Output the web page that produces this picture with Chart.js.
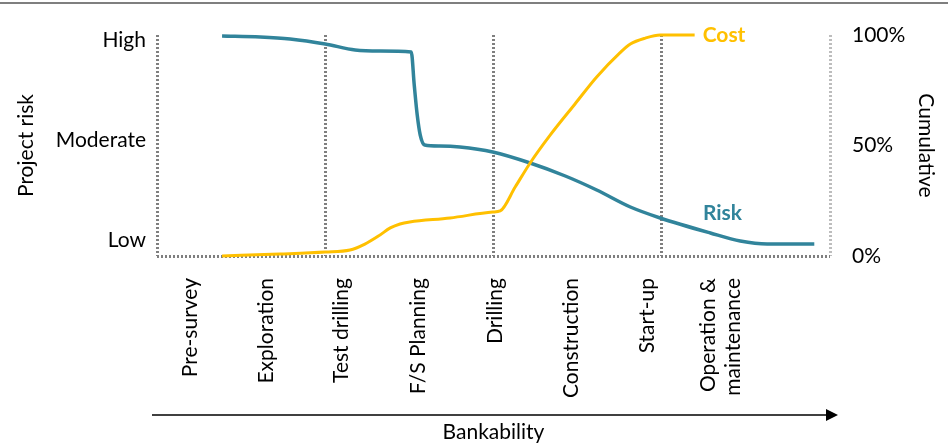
<!DOCTYPE html>
<html>
<head>
<meta charset="utf-8">
<script src="https://cdn.jsdelivr.net/npm/chart.js@4"></script>
<style>
  html, body { margin: 0; padding: 0; background: #fff; }
  canvas { display: block; }
</style>
</head>
<body>
<canvas id="myChart" width="948" height="445"></canvas>
<script>
// phases along the bottom, and where their labels sit on the x scale
const phases = ['Pre-survey', 'Exploration', 'Test drilling', 'F/S Planning', 'Drilling',
                'Construction', 'Start-up', ['Operation &', 'maintenance']];
const phaseTicks = [0.44, 1.46, 2.47, 3.49, 4.52, 5.54, 6.55, 7.37];
const stageLines = [0, 2.25, 4.5, 6.75, 9];

const riskLevels = ['Low', 'Moderate', 'High'];   // 1, 2, 3
const costTicks = [0, 50, 100];

// Risk curve (left axis, 1 = Low .. 3 = High)
const riskX = [0.87, 1.38, 1.78, 2.25, 2.65, 2.98, 3.40, 3.44, 3.48, 3.52, 3.58, 3.78,
               4.05, 4.49, 4.99, 5.46, 5.88, 6.33, 6.73, 7.40, 7.80, 8.16, 8.79];
const riskY = [3.04, 3.03, 3.01, 2.96, 2.90, 2.89, 2.88, 2.55, 2.25, 2.05, 1.95, 1.94,
               1.93, 1.88, 1.77, 1.64, 1.50, 1.33, 1.22, 1.07, 0.99, 0.96, 0.96];

// Cumulative cost curve (right axis, %)
const costX = [0.87, 1.64, 2.25, 2.58, 2.78, 2.96, 3.12, 3.25, 3.38, 3.92, 4.49, 4.59,
               4.79, 4.99, 5.26, 5.59, 5.88, 6.19, 6.33, 6.53, 6.73, 7.19];
const costY = [0, 0.9, 1.8, 2.7, 5.4, 9.0, 12.7, 14.5, 15.4, 17.2, 19.9, 20.4,
               31.2, 42.1, 54.8, 68.8, 81.0, 91.9, 95.9, 98.6, 100, 100];

const teal = '#31849B';
const gold = '#FFC000';
const dotGrey = '#7f7f7f';

Chart.defaults.font.family = 'Lato';
Chart.defaults.font.size = 21;
Chart.defaults.color = '#000';

const extras = {
    id: 'extras',
    afterDraw(chart) {
        const c = chart.ctx;
        const xs = chart.scales.x;
        const yc = chart.scales.yCost;
        const yr = chart.scales.yRisk;
        const area = chart.chartArea;
        c.save();
        // top rule
        c.strokeStyle = '#7f7f7f';
        c.lineWidth = 2;
        c.beginPath(); c.moveTo(0, 3); c.lineTo(chart.width, 3); c.stroke();

        // series names
        c.font = 'bold 21px Lato';
        c.textBaseline = 'middle';
        c.textAlign = 'left';
        c.fillStyle = gold;
        c.fillText('Cost', xs.getPixelForValue(costX[costX.length - 1]) + 8,
                   yc.getPixelForValue(costY[costY.length - 1]));
        c.fillStyle = teal;
        c.fillText('Risk', xs.getPixelForValue(7.3), yr.getPixelForValue(1.27));

        // bankability arrow
        const ay = 415;
        const x0 = area.left - 5, x1 = area.right + 8;
        c.strokeStyle = '#000';
        c.fillStyle = '#000';
        c.lineWidth = 1.5;
        c.beginPath(); c.moveTo(x0, ay); c.lineTo(x1 - 10, ay); c.stroke();
        c.beginPath();
        c.moveTo(x1, ay); c.lineTo(x1 - 12, ay - 6); c.lineTo(x1 - 12, ay + 6);
        c.closePath(); c.fill();
        c.restore();
    }
};

const ctx = document.getElementById('myChart');

new Chart(ctx, {
    type: 'line',
    data: {
        datasets: [
            {
                label: 'Cost',
                data: costX.map((x, i) => ({ x: x, y: costY[i] })),
                xAxisID: 'x',
                yAxisID: 'yCost',
                borderColor: gold,
                borderWidth: 3,
                pointRadius: 0,
                cubicInterpolationMode: 'monotone',
                clip: 6
            },
            {
                label: 'Risk',
                data: riskX.map((x, i) => ({ x: x, y: riskY[i] })),
                xAxisID: 'x',
                yAxisID: 'yRisk',
                borderColor: teal,
                borderWidth: 3.5,
                pointRadius: 0,
                cubicInterpolationMode: 'monotone',
                clip: 6
            }
        ]
    },
    options: {
        responsive: false,
        animation: false,
        layout: { padding: 0 },
        plugins: {
            legend: { display: false },
            tooltip: { enabled: false }
        },
        scales: {
            x: {
                type: 'linear',
                position: 'bottom',
                min: 0,
                max: 9,
                afterBuildTicks: s => { s.ticks = phaseTicks.map(v => ({ value: v })); },
                afterFit: s => { s.height = 189; },
                ticks: {
                    callback: (v, i) => phases[i],
                    autoSkip: false,
                    minRotation: 90,
                    maxRotation: 90,
                    padding: 22
                },
                grid: { display: false, drawTicks: false },
                border: { display: false },
                title: { display: true, text: 'Bankability', padding: { top: 0, bottom: 0 } }
            },
            xStages: {
                type: 'linear',
                position: 'top',
                min: 0,
                max: 9,
                afterBuildTicks: s => { s.ticks = stageLines.map(v => ({ value: v })); },
                afterFit: s => { s.height = 35; },
                ticks: { display: false },
                grid: {
                    drawTicks: false,
                    lineWidth: 3,
                    color: c => c.index === stageLines.length - 1 ? '#bdbdbd' : dotGrey
                },
                border: { display: false, dash: [2, 2] }
            },
            yRisk: {
                type: 'linear',
                position: 'left',
                min: 0.84,
                max: 3.05,
                afterBuildTicks: s => { s.ticks = [1, 2, 3].map(v => ({ value: v })); },
                afterFit: s => { s.width = 157; },
                ticks: { callback: (v, i) => riskLevels[i], padding: 11 },
                grid: { display: false, drawTicks: false },
                border: { display: false },
                title: { display: true, text: 'Project risk', padding: { top: 14, bottom: 0 } }
            },
            yCost: {
                type: 'linear',
                position: 'right',
                min: 0,
                max: 100,
                afterBuildTicks: s => { s.ticks = costTicks.map(v => ({ value: v })); },
                afterFit: s => { s.width = 118; },
                ticks: { callback: v => v + '%', padding: 22 },
                grid: {
                    drawTicks: false,
                    lineWidth: 3,
                    color: c => (c.tick && c.tick.value === 0) ? dotGrey : 'rgba(0,0,0,0)'
                },
                border: { display: false, dash: [2, 2] },
                title: { display: true, text: 'Cumulative', padding: { top: 10, bottom: 0 } }
            }
        }
    },
    plugins: [extras]
});
</script>
</body>
</html>
